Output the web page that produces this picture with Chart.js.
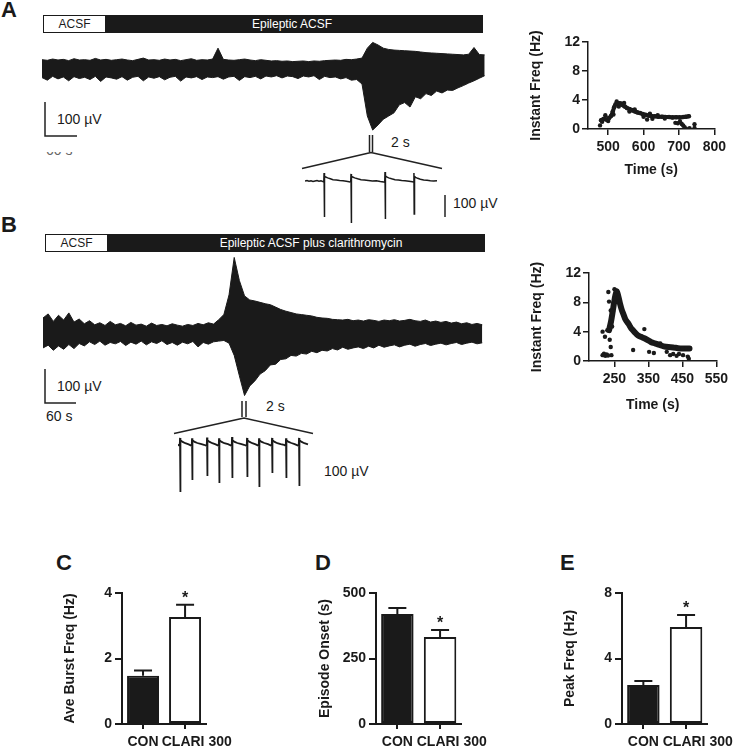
<!DOCTYPE html>
<html>
<head>
<meta charset="utf-8">
<script src="https://cdn.jsdelivr.net/npm/chart.js@4.4.0/dist/chart.umd.min.js"></script>
<style>
  body { margin: 0; background: #fff; }
  #page { position: relative; width: 747px; height: 748px; overflow: hidden;
          font-family: "Liberation Sans", Arial, sans-serif; color: #1a1a1a; }
  canvas { position: absolute; }
  .letter { position: absolute; font-weight: bold; font-size: 22px; line-height: 22px; }
  .lbl { position: absolute; font-size: 14px; line-height: 14px; white-space: nowrap; }
  .hdr { position: absolute; background: #1a1a1a; height: 18px; }
  .hdr .box { position: absolute; left: 1px; top: 1px; height: 16px; background: #fff;
              font-size: 12px; line-height: 16px; text-align: center; color: #1a1a1a; }
  .hdr .txt { position: absolute; top: 1px; font-size: 12px; line-height: 16px; color: #fff;
              transform: translateX(-50%); white-space: nowrap; }
  svg { position: absolute; left: 0; top: 0; }
</style>
</head>
<body>
<div id="page">
  <div class="letter" style="left:1px;top:-1px">A</div>
  <div class="letter" style="left:1px;top:214px">B</div>
  <div class="letter" style="left:56px;top:552px">C</div>
  <div class="letter" style="left:315px;top:552px">D</div>
  <div class="letter" style="left:560px;top:552px">E</div>

  <div class="hdr" style="left:43px;top:15px;width:440px">
    <div class="box" style="width:61px">ACSF</div>
    <div class="txt" style="left:249px">Epileptic ACSF</div>
  </div>
  <div class="hdr" style="left:45px;top:234px;width:440px">
    <div class="box" style="width:61px">ACSF</div>
    <div class="txt" style="left:266px">Epileptic ACSF plus clarithromycin</div>
  </div>

  <svg width="747" height="748">
    <g stroke="#222" stroke-width="1.5" fill="none">
      <path d="M45 102 V136 H77"/>
      <path d="M369.5 135 V152 M372.5 135 V152"/>
      <path d="M371 152.5 L302 168.5 M371 152.5 L442 168.5"/>
      <path d="M445 195 V217"/>
      <path d="M45 369 V403 H76"/>
      <path d="M242 401 V417 M246 401 V417"/>
      <path d="M244 418 L174 433.5 M244 418 L313 433.5"/>
    </g>
  </svg>

  <div class="lbl" style="left:57px;top:112px">100 µV</div>
  <div style="position:absolute;left:46px;top:152px;width:40px;height:3px;overflow:hidden">
    <div class="lbl" style="left:0;top:-9px;color:#666">60 s</div>
  </div>
  <div class="lbl" style="left:391px;top:135px">2 s</div>
  <div class="lbl" style="left:453px;top:196px">100 µV</div>
  <div class="lbl" style="left:57px;top:379px">100 µV</div>
  <div class="lbl" style="left:46px;top:409px">60 s</div>
  <div class="lbl" style="left:266px;top:399px">2 s</div>
  <div class="lbl" style="left:324px;top:464px">100 µV</div>

  <canvas id="traceA" width="443" height="100" style="left:42px;top:36px"></canvas>
  <canvas id="insetA" width="133" height="60" style="left:305px;top:165px"></canvas>
  <canvas id="traceB" width="442" height="150" style="left:43px;top:250px"></canvas>
  <canvas id="insetB" width="132" height="70" style="left:178px;top:430px"></canvas>
  <canvas id="freqA" width="210" height="160" style="left:520px;top:30px"></canvas>
  <canvas id="freqB" width="212" height="160" style="left:520px;top:260px"></canvas>
  <canvas id="barC" width="200" height="168" style="left:40px;top:580px"></canvas>
  <canvas id="barD" width="205" height="168" style="left:290px;top:580px"></canvas>
  <canvas id="barE" width="206" height="168" style="left:535px;top:580px"></canvas>
</div>

<script>
// recording A: time (s) and envelope of the trace (µV)
const traceTimeA = [0,10,20,30,40,50,60,70,80,90,100,110,120,130,140,150,160,170,180,190,
  200,210,220,230,240,250,260,270,280,290,300,310,320,330,340,350,360,370,380,390,
  400,410,420,430,440,450,460,470,480,490,500,510,520,530,540,550,560,570,580,590,
  600,610,620,630,640,650,660,670,680,690,700,710,720,730,740,750,760,770,780,790,
  800,810,820,830];
const traceUpperA = [26,24,28,25,27,23,29,25,26,24, 30,25,27,24,26,28,25,23,27,31,
  25,26,24,28,25,27,23,26,29,24, 26,25,28,62,27,25,24,26,28,25,
  23,26,24,22,23,21,22,20,21,22, 20,22,21,23,24,25,24,27,26,28,
  31,62,80,72,62,58,56,55,54,53, 52,50,48,47,46,45,44,43,42,41, 43,64,42,41];
const traceLowerA = [-30,-38,-26,-34,-28,-40,-27,-33,-29,-36, -26,-42,-28,-31,-35,-27,-38,-29,-26,-40,
  -28,-32,-27,-37,-29,-26,-41,-28,-31,-27, -36,-28,-30,-27,-35,-28,-26,-39,-27,-30,
  -26,-34,-25,-28,-24,-31,-25,-27,-33,-25, -28,-24,-36,-26,-30,-28,-34,-30,-38,-36,
  -50,-150,-194,-178,-160,-150,-140,-115,-108,-122, -90,-96,-80,-86,-72,-78,-69,-70,-62,-55,
  -47,-40,-32,-24];

// recording B
const traceTimeB = [0,10,20,30,40,50,60,70,80,90,100,110,120,130,140,150,160,170,180,190,
  200,210,220,230,240,250,260,270,280,290,300,310,320,330,340,350,360,370,380,390,
  400,410,420,430,440,450,460,470,480,490,500,510,520,530,540,550,560,570,580,590,
  600,610,620,630,640,650,660,670,680,690,700,710,720,730,740,750,760,770,780,790,
  800,810,820,830,840,850];
const traceUpperB = [50,62,40,58,44,65,38,47,33,42, 30,36,28,40,30,34,27,37,29,32,
  26,35,28,31,27,33,29,26,31,28, 34,30,36,32,45,60,118,228,160,115,
  103,100,96,92,89,82,75,70,66,62, 60,58,56,52,50,49,46,45,44,46,
  42,44,41,45,43,40,44,42,45,41, 43,46,42,40,44,38,41,37,40,35, 38,33,36,31,34,30];
const traceLowerB = [-38,-30,-45,-32,-42,-28,-40,-25,-32,-20, -28,-18,-30,-22,-26,-19,-31,-21,-27,-18,
  -29,-20,-25,-17,-28,-22,-30,-21,-26,-19, -35,-22,-27,-20,-18,-16,-24,-60,-120,-178,
  -150,-135,-115,-105,-88,-86,-72,-70,-60,-62, -54,-56,-48,-52,-45,-47,-40,-44,-36,-42,
  -38,-35,-40,-33,-38,-30,-36,-32,-29,-35, -30,-27,-33,-28,-25,-31,-27,-24,-29,-25,
  -22,-28,-24,-21,-26,-23];

// 2 s expansions (ms, µV)
const insetTimeA = [0,30,60,90,120,150,180,210,240,270,282,286,290,295,310,340,380,420,470,520,
  570,620,660,686,690,694,699,715,745,790,840,890,950,1010,1070,1130,1180,1196,1200,1204,
  1209,1225,1255,1300,1350,1400,1450,1500,1560,1610,1630,1634,1638,1643,1660,1690,1730,1780,1830,1880,
  1930,1980];
const insetVoltA = [0,2,-1,1,-2,0,2,-1,1,-3,-5,36,-162,20,18,14,10,6,4,2,
  1,-1,-3,-5,32,-189,22,18,14,10,6,4,2,0,1,-2,-4,-6,40,-171,
  24,18,14,10,6,4,2,1,-1,-3,-5,36,-148,20,16,12,8,5,3,1,
  0,1];
const insetTimeB = [0,26,30,34,39,70,110,160, 206,210,214,219,250,290,340,390,
  431,435,439,444,475,515,565, 611,615,619,624,655,695,750, 806,810,814,819,850,890,940,990,
  1031,1035,1039,1044,1075,1115,1165, 1211,1215,1219,1224,1255,1295,1350,
  1406,1410,1414,1419,1450,1490,1540,1590, 1616,1620,1624,1629,1660,1700,1750,
  1811,1815,1819,1824,1855,1895,1950];
const insetVoltB = [2,-4,32,-212,22,14,8,3, -4,30,-158,22,14,9,5,1,
  -4,34,-140,22,14,8,3, -4,30,-171,22,14,8,4, -4,36,-149,22,14,9,5,1,
  -4,32,-144,22,14,8,3, -4,30,-189,22,14,9,4,
  -4,32,-126,22,14,8,4,1, -4,30,-149,22,14,9,4,
  -4,32,-185,22,14,8,3];

// instantaneous frequency (s, Hz)
const freqTrendTimeA = [480,488,495,502,508,513,517,521,526,531,536,541,547,553,560,567,574,582,590,598,
  606,614,622,632,642,652,662,672,682,692,702,712,720,728];
const freqTrendHzA = [1.2,1.4,1.3,1.5,1.8,2.4,3.0,3.4,3.5,3.55,3.5,3.3,3.1,2.9,2.75,2.6,2.45,2.3,2.2,2.05,
  1.95,1.85,1.8,1.75,1.7,1.7,1.65,1.65,1.6,1.62,1.6,1.65,1.7,1.75];
const freqPtTimeA = [477,483,492,500,515,524,530,545,560,575,600,610,618,625,640,660,690,697,703,708,712,716,720,730,744,744];
const freqPtHzA = [0.5,1.0,1.9,1.1,2.0,3.8,3.1,3.6,2.4,2.7,1.7,1.3,2.1,1.4,1.9,1.45,0.85,0.8,1.05,0.7,0.5,0.25,0.05,0.1,0.65,0.15];

const freqTrendTimeB = [234,240,245,249,253,257,262,267,272,277,281,286,291,296,300,310,319,328,338,348,
  357,366,376,385,395,409,423,437,452,462,471];
const freqTrendHzB = [4.2,5.4,6.8,8.0,9.0,9.5,8.7,7.7,6.9,6.3,5.8,5.4,5.1,4.7,4.4,3.9,3.5,3.3,3.1,2.85,
  2.6,2.45,2.3,2.15,2.0,1.9,1.85,1.75,1.7,1.7,1.7];
const freqPtTimeB = [215,219,223,227,231,215,222,229,232,234,239,241,243,236,239,241,338,305,352,366,
  385,414,433,452,466,469,423,404,440,250,255,260];
const freqPtHzB = [0.8,1.0,0.7,0.9,0.75,4.0,3.3,4.2,9.4,8.1,6.9,5.8,4.7,2.9,1.9,0.8,4.35,1.5,1.25,1.1,
  2.4,0.8,0.7,0.8,0.6,0.3,0.95,1.25,0.95,9.8,9.6,9.1];

const freqTicks = [0, 4, 8, 12];
const timeTicksA = [500, 600, 700, 800];
const timeTicksB = [250, 350, 450, 550];

// group summaries (mean, SEM)
const groups = ['CON', 'CLARI 300'];
const burstMean = [1.47, 3.27], burstErr = [0.16, 0.37];
const onsetMean = [420, 332],   onsetErr = [23, 27];
const peakMean  = [2.38, 5.92], peakErr  = [0.25, 0.74];
const significant = [false, true];
const burstTicks = [0, 2, 4], onsetTicks = [0, 250, 500], peakTicks = [0, 4, 8];

const ink = '#1a1a1a';
const FONT = '"Liberation Sans", Arial, sans-serif';
Chart.defaults.font.family = FONT;
Chart.defaults.color = ink;

const pairs = (xs, ys) => xs.map((x, i) => ({ x: x, y: ys[i] }));
const setTicks = list => s => { s.ticks = list.map(v => ({ value: v })); };
const bold14 = { size: 14, weight: 'bold' };
const base = { responsive: false, animation: false, events: [], devicePixelRatio: 1,
  plugins: { legend: { display: false }, tooltip: { enabled: false } } };

function traceChart(id, xs, upper, lower, xMax, yMin, yMax, width) {
  const ds = [{ data: pairs(xs, upper), borderColor: ink, backgroundColor: ink, borderWidth: width,
                pointRadius: 0, tension: 0 }];
  if (lower) {
    ds[0].fill = '+1';
    ds.push({ data: pairs(xs, lower), borderColor: ink, borderWidth: width, pointRadius: 0, tension: 0, fill: false });
  }
  new Chart(document.getElementById(id), {
    type: 'line',
    data: { datasets: ds },
    options: Object.assign({}, base, {
      layout: { padding: 0 },
      scales: {
        x: { type: 'linear', display: false, min: 0, max: xMax },
        y: { display: false, min: yMin, max: yMax }
      }
    })
  });
}

traceChart('traceA', traceTimeA, traceUpperA, traceLowerA, 830.6, -212.5, 100, 1);
traceChart('traceB', traceTimeB, traceUpperB, traceLowerB, 855.3, -191.1, 249.9, 1);
traceChart('insetA', insetTimeA, insetVoltA, null, 1995, -198, 72, 1.5);
traceChart('insetB', insetTimeB, insetVoltB, null, 1980, -247.5, 67.5, 1.8);

function freqChart(id, tt, th, pt, ph, xMin, xMax, xTicks, g) {
  new Chart(document.getElementById(id), {
    type: 'scatter',
    data: { datasets: [
      { data: pairs(tt, th), showLine: true, borderColor: ink, borderWidth: g.band, tension: 0.3,
        borderCapStyle: 'round', borderJoinStyle: 'round',
        pointRadius: 2.3, pointBackgroundColor: ink, pointBorderWidth: 0 },
      { data: pairs(pt, ph), pointRadius: 2.2, pointBackgroundColor: ink, pointBorderWidth: 0 }
    ]},
    options: Object.assign({}, base, {
      layout: { padding: { top: g.pT, right: g.pR, left: 0, bottom: 0 } },
      scales: {
        x: { type: 'linear', min: xMin, max: xMax, afterBuildTicks: setTicks(xTicks),
             afterFit: s => { s.height = g.H; },
             grid: { display: true, drawOnChartArea: false, tickLength: 6, color: ink, lineWidth: 1.5 },
             border: { color: ink, width: 1.5 },
             ticks: { font: bold14, padding: 4, color: ink, maxRotation: 0, autoSkip: false },
             title: { display: true, text: 'Time (s)', font: bold14, color: ink, padding: { bottom: g.xt } } },
        y: { min: 0, max: 12, afterBuildTicks: setTicks(freqTicks),
             afterFit: s => { s.width = g.W; },
             grid: { display: true, drawOnChartArea: false, tickLength: 6, color: ink, lineWidth: 1.5 },
             border: { color: ink, width: 1.5 },
             ticks: { font: bold14, padding: 2, color: ink },
             title: { display: true, text: 'Instant Freq (Hz)', font: bold14, color: ink, padding: { top: g.yt } } }
      }
    })
  });
}

freqChart('freqA', freqTrendTimeA, freqTrendHzA, freqPtTimeA, freqPtHzA, 443, 800, timeTicksA,
  { pT: 12, pR: 10, W: 68, H: 61, yt: 7.6, xt: 11.6, band: 4 });
freqChart('freqB', freqTrendTimeB, freqTrendHzB, freqPtTimeB, freqPtHzB, 175, 550, timeTicksB,
  { pT: 13, pR: 11, W: 69, H: 59, yt: 8.6, xt: 6.6, band: 6 });

const errorBars = {
  id: 'errorBars',
  afterDatasetsDraw(chart) {
    const ctx = chart.ctx, ds = chart.data.datasets[0], y = chart.scales.y;
    ctx.save();
    ctx.strokeStyle = ink; ctx.fillStyle = ink; ctx.lineWidth = 2;
    chart.getDatasetMeta(0).data.forEach((bar, i) => {
      const top = y.getPixelForValue(ds.data[i] + ds.errors[i]);
      ctx.beginPath();
      ctx.moveTo(bar.x, bar.y); ctx.lineTo(bar.x, top);
      ctx.moveTo(bar.x - 9, top); ctx.lineTo(bar.x + 9, top);
      ctx.stroke();
      if (significant[i]) {
        ctx.font = 'bold 16px ' + FONT;
        ctx.textAlign = 'center'; ctx.textBaseline = 'middle';
        ctx.fillText('*', bar.x, top - 6);
      }
    });
    ctx.restore();
  }
};

// the wide second label sits right of its bar in the original, as GraphPad lays it out
const labelShift = ['', '      '];

function barChart(id, means, errs, yMax, yTicks, title, g) {
  new Chart(document.getElementById(id), {
    type: 'bar',
    data: { labels: groups, datasets: [{ data: means, errors: errs,
      backgroundColor: [ink, '#fff'], borderColor: ink, borderWidth: 2, borderSkipped: false,
      barPercentage: 0.76, categoryPercentage: 1 }] },
    options: Object.assign({}, base, {
      layout: { padding: { top: 13, right: 13, left: 0, bottom: 0 } },
      scales: {
        x: { afterFit: s => { s.height = 24; },
             grid: { display: true, offset: false, drawOnChartArea: false, tickLength: 5, color: ink, lineWidth: 2 },
             border: { color: ink, width: 2 },
             ticks: { font: bold14, padding: 5, color: ink, maxRotation: 0, autoSkip: false,
                      callback: (v, i) => labelShift[i] + groups[i] } },
        y: { min: 0, max: yMax, afterBuildTicks: setTicks(yTicks),
             afterFit: s => { s.width = g.W; },
             grid: { display: true, drawOnChartArea: false, tickLength: 7, color: ink, lineWidth: 2 },
             border: { color: ink, width: 2 },
             ticks: { font: bold14, padding: 3, color: ink },
             title: { display: true, text: title, font: bold14, color: ink, padding: { top: g.yt } } }
      }
    }),
    plugins: [errorBars]
  });
}

barChart('barC', burstMean, burstErr, 4, burstTicks, 'Ave Burst Freq (Hz)', { W: 82, yt: 21.6 });
barChart('barD', onsetMean, onsetErr, 500, onsetTicks, 'Episode Onset (s)', { W: 86, yt: 26.6 });
barChart('barE', peakMean, peakErr, 8, peakTicks, 'Peak Freq (Hz)', { W: 87, yt: 26.6 });
</script>
</body>
</html>
